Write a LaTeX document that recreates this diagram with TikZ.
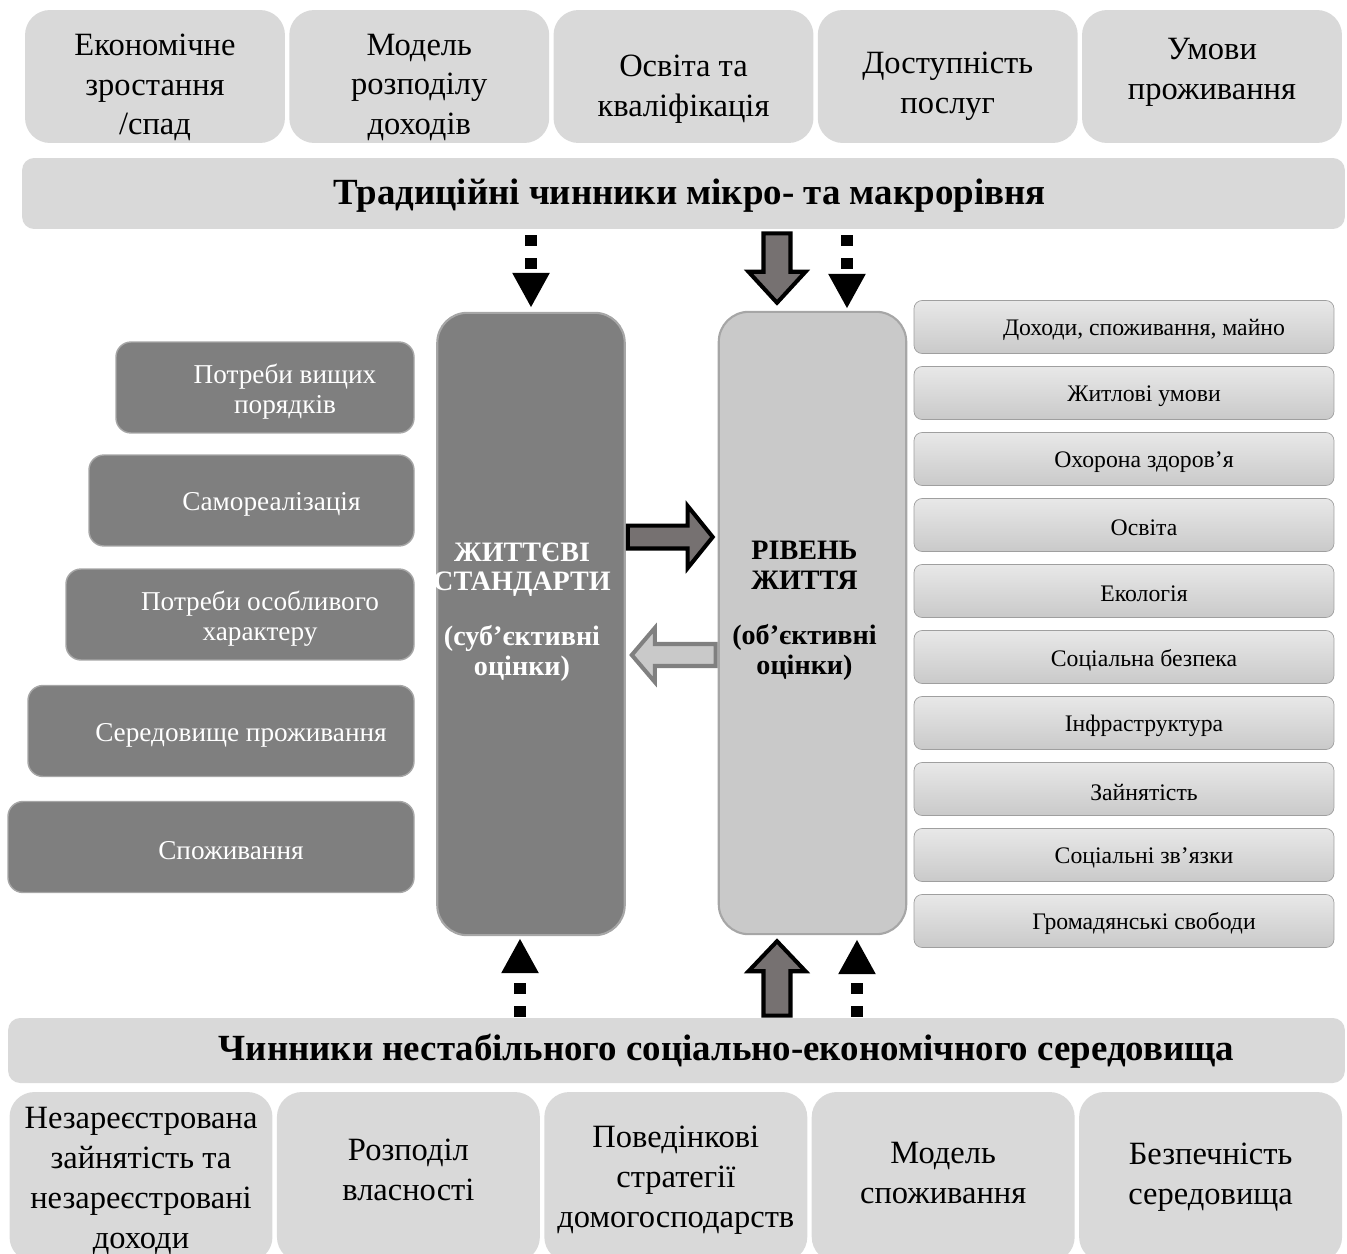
\documentclass[tikz,border=0pt]{standalone}
\usepackage{fontspec}
\setmainfont{Liberation Serif}
\usetikzlibrary{calc,arrows.meta}

\definecolor{lightbox}{HTML}{D9D9D9}
\definecolor{darkbox}{HTML}{7F7F7F}
\definecolor{midbox}{HTML}{C9C9C9}
\definecolor{rimgray}{HTML}{A6A6A6}
\definecolor{arrowfill}{HTML}{767171}

\begin{document}
\begin{tikzpicture}
            [x=0.02cm,y=-0.02cm,
            topbox/.style={fill=lightbox,rounded corners=0.5cm,minimum width=5.2cm,minimum height=2.66cm,inner sep=0pt},
            toptext/.style={align=center,font=\fontsize{18.5}{22.7}\selectfont},
            botbox/.style={topbox,minimum width=5.26cm,minimum height=3.4cm},
            bar/.style={fill=lightbox,rounded corners=0.24cm,inner sep=0pt},
            bartext/.style={font=\bfseries\fontsize{21}{24}\selectfont},
            needbox/.style={fill=darkbox,draw=rimgray,line width=0.8pt,rounded corners=0.3cm,minimum height=1.82cm},
            needtext/.style={text=white,align=center,xshift=0.4cm,yshift=-0.08cm,font=\fontsize{15.5}{17}\selectfont},
            listbox/.style={top color=gray!18,bottom color=gray!42,draw=gray!75,rounded corners=0.16cm,minimum width=8.4cm,minimum height=1.06cm},
            listtext/.style={xshift=0.4cm,yshift=-0.06cm,font=\fontsize{13.5}{15}\selectfont},
            bigbox/.style={draw=rimgray,line width=1.2pt,rounded corners=0.6cm,minimum width=3.75cm,minimum height=12.45cm},
            bigtext/.style={align=center,xshift=-0.18cm,yshift=0.24cm,font=\bfseries\fontsize{16}{17}\selectfont},
            dotarr/.style={line width=0.23cm,dash pattern=on 0.22cm off 0.24cm,-{Triangle[width=0.7cm,length=0.7cm]}},
            fat arrow/.style n args={3}{to path={
              ($(\tikztotarget)!#3!(\tikztostart)$) coordinate (fab)
              ($(\tikztostart)!#1!90:(\tikztotarget)$) -- ($(fab)!#1!90:(\tikztotarget)$)
              -- ($(fab)!#2!90:(\tikztotarget)$) -- (\tikztotarget)
              -- ($(fab)!#2!-90:(\tikztotarget)$) -- ($(fab)!#1!-90:(\tikztotarget)$)
              -- ($(\tikztostart)!#1!-90:(\tikztotarget)$) -- cycle}},
            fatdark/.style={fill=arrowfill,draw=black,line width=2.3pt},
            fatlight/.style={fill=midbox,draw=gray,line width=2.3pt}]
            \useasboundingbox (0,0) rectangle (1347,1254);

            % traditional factors
            \foreach \t/\dy [count=\i from 0] in {{Економічне\\зростання\\/спад}/-0.22cm,{Модель\\розподілу\\доходів}/-0.22cm,{Освіта та\\кваліфікація}/-0.25cm,{Доступність\\послуг}/-0.2cm,{Умови\\проживання}/0.08cm}
              \node[topbox,label={[toptext,yshift=\dy]center:\t}] (t\i) at ({155+264.25*\i},76.5) {};
            \node[bar,minimum width=26.46cm,minimum height=1.42cm,
              label={[bartext,xshift=0.12cm,yshift=-0.04cm]center:Традиційні чинники мікро- та макрорівня}] (hdr) at (683.5,193.5) {};

            % two central blocks
            \node[bigbox,fill=darkbox,label={[bigtext,text=white]center:ЖИТТЄВІ\\СТАНДАРТИ\\[0.5cm](суб’єктивні\\оцінки)}] (st) at (531,624) {};
            \node[bigbox,fill=midbox,label={[bigtext,xshift=0.02cm]center:РІВЕНЬ\\ЖИТТЯ\\[0.5cm](об’єктивні\\оцінки)}] (lv) at (812.5,623) {};

            % needs
            \foreach \xl/\yc/\t in {116/387.5/{Потреби вищих\\порядків},89/500.5/Самореалізація,66/614.5/{Потреби особливого\\характеру},28/731/Середовище проживання,8/847/Споживання}
              \node[needbox,minimum width={(414-\xl)*0.02cm},label={[needtext]center:\t}] (n\xl) at ({(\xl+414)/2},\yc) {};

            % components of the level of living
            \foreach \t [count=\i from 0] in {{Доходи, споживання, майно},Житлові умови,Охорона здоров’я,Освіта,Екологія,Соціальна безпека,Інфраструктура,Зайнятість,Соціальні зв’язки,Громадянські свободи}
              \node[listbox,label={[listtext]center:\t}] (r\i) at (1124,{327+66*\i}) {};

            % unstable environment
            \node[bar,minimum width=26.74cm,minimum height=1.3cm,
              label={[bartext,xshift=1cm,yshift=-0.02cm]center:Чинники нестабільного соціально-економічного середовища}] (bot) at (676.5,1050.5) {};
            \foreach \t/\dy [count=\i from 0] in {{Незареєстрована\\зайнятість та\\незареєстровані\\доходи}/-0.08cm,{Розподіл\\власності}/0.14cm,{Поведінкові\\стратегії\\домогосподарств}/-0.06cm,{Модель\\споживання}/0.08cm,{Безпечність\\середовища}/0cm}
              \node[botbox,label={[toptext,yshift=\dy]center:\t}] (b\i) at ({141+267.4*\i},1177) {};

            % arrows
            \coordinate (d1) at ([xshift=0.69cm]lv.north);
            \coordinate (d2) at ([xshift=-0.22cm]st.south);
            \coordinate (d3) at ([xshift=0.89cm]lv.south);
            \draw[dotarr,shorten <=0.12cm,shorten >=0.08cm] (hdr.south -| st.north) -- (st.north);
            \draw[dotarr,shorten <=0.12cm,shorten >=0.04cm] (hdr.south -| d1) -- (d1);
            \draw[dotarr,shorten <=0.02cm,shorten >=0.04cm] (bot.north -| d2) -- (d2);
            \draw[dotarr,shorten <=0.02cm,shorten >=0.08cm] (bot.north -| d3) -- (d3);

            \coordinate (v1s) at ([xshift=-0.71cm,yshift=-0.08cm]hdr.south -| lv.north);
            \coordinate (v1e) at ([yshift=0.16cm]v1s |- lv.north);
            \coordinate (v2s) at ([xshift=-0.71cm,yshift=0.04cm]bot.north -| lv.south);
            \coordinate (v2e) at ([yshift=-0.12cm]v2s |- lv.south);
            \draw[fat arrow={0.27cm}{0.57cm}{0.62cm},fatdark] (v1s) to (v1e);
            \draw[fat arrow={0.27cm}{0.57cm}{0.6cm},fatdark] (v2s) to (v2e);

            \coordinate (h1s) at ([xshift=0.04cm,yshift=1.74cm]st.east);
            \coordinate (h1e) at ([xshift=-0.1cm]h1s -| lv.west);
            \coordinate (h2e) at ([xshift=0.12cm,yshift=-0.62cm]st.east);
            \coordinate (h2s) at ([xshift=-0.04cm]h2e -| lv.west);
            \draw[fat arrow={0.23cm}{0.62cm}{0.5cm},fatdark] (h1s) to (h1e);
            \draw[fat arrow={0.22cm}{0.54cm}{0.46cm},fatlight] (h2s) to (h2e);
        \end{tikzpicture}
\end{document}
